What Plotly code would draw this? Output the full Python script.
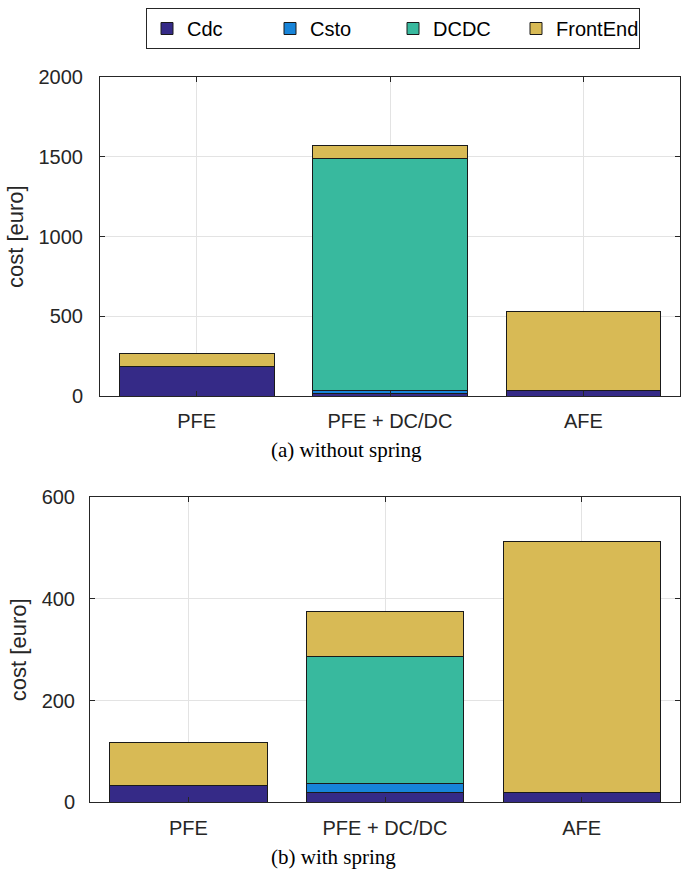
import plotly.graph_objects as go

categories = ["PFE", "PFE + DC/DC", "AFE"]
series_names = ["Cdc", "Csto", "DCDC", "FrontEnd"]
colors = ["#352A87", "#1784D9", "#38B99E", "#D8BA55"]

# (a) without spring
cdc_a = [186, 18, 37]
csto_a = [0, 19, 0]
dcdc_a = [0, 1455, 0]
fe_a = [78, 83, 496]

# (b) with spring
cdc_b = [33, 20, 20]
csto_b = [0, 17, 0]
dcdc_b = [0, 249, 0]
fe_b = [84, 90, 494]

yticks_a = [0, 500, 1000, 1500, 2000]
yticks_b = [0, 200, 400, 600]

W, H = 686, 869
fig = go.Figure()

data_a = [cdc_a, csto_a, dcdc_a, fe_a]
data_b = [cdc_b, csto_b, dcdc_b, fe_b]
for name, col, va, vb in zip(series_names, colors, data_a, data_b):
    fig.add_bar(x=categories, y=va, name=name, marker_color=col,
                marker_line_color="#1a1a1a", marker_line_width=1,
                width=0.8, xaxis="x", yaxis="y", legendgroup=name)
    fig.add_bar(x=categories, y=vb, name=name, marker_color=col,
                marker_line_color="#1a1a1a", marker_line_width=1,
                width=0.8, xaxis="x2", yaxis="y2", legendgroup=name,
                showlegend=False)

SANS = "Liberation Sans, Arial, sans-serif"
tickfont = dict(family=SANS, size=20, color="#262626")
titlefont = dict(family=SANS, size=22, color="#262626")
common = dict(showline=True, linecolor="#262626", linewidth=1, mirror="ticks",
              ticks="inside", ticklen=5, tickcolor="#262626",
              showgrid=True, gridcolor="#e3e3e3", gridwidth=1,
              zeroline=False, tickfont=tickfont, automargin=False)

fig.update_layout(
    width=W, height=H,
    margin=dict(l=0, r=0, t=0, b=0, autoexpand=False),
    paper_bgcolor="white", plot_bgcolor="white",
    barmode="stack", bargap=0.2,
    font=tickfont,
    showlegend=True,
    legend=dict(orientation="h", x=146 / W, y=1 - 8 / H, xanchor="left", yanchor="top",
                bordercolor="#262626", borderwidth=1, bgcolor="white",
                font=dict(family=SANS, size=20, color="#000000"),
                entrywidthmode="pixels", entrywidth=78,
                traceorder="normal"),
    xaxis=dict(domain=[100 / W, 680 / W], anchor="y", range=[-0.5, 2.5],
               ticklabelstandoff=7, **common),
    yaxis=dict(domain=[1 - 396 / H, 1 - 77.3 / H], anchor="x", range=[0, 2000],
               tickvals=yticks_a, ticklabelstandoff=12,
               title=dict(text="cost [euro]", standoff=8, font=titlefont),
               **common),
    xaxis2=dict(domain=[90 / W, 680 / W], anchor="y2", range=[-0.5, 2.5],
                ticklabelstandoff=8, **common),
    yaxis2=dict(domain=[1 - 802.3 / H, 1 - 497.3 / H], anchor="x2", range=[0, 600],
                tickvals=yticks_b, ticklabelstandoff=10,
                title=dict(text="cost [euro]", standoff=8, font=titlefont),
                **common),
)

serif = dict(family="Liberation Serif, Times New Roman, serif", size=21, color="#000000")
fig.add_annotation(text="(a) without spring", x=346 / W, y=1 - 450 / H, xref="paper", yref="paper",
                   showarrow=False, font=serif, xanchor="center", yanchor="middle")
fig.add_annotation(text="(b) with spring", x=333 / W, y=1 - 857 / H, xref="paper", yref="paper",
                   showarrow=False, font=serif, xanchor="center", yanchor="middle")

fig.write_html("out.html")
